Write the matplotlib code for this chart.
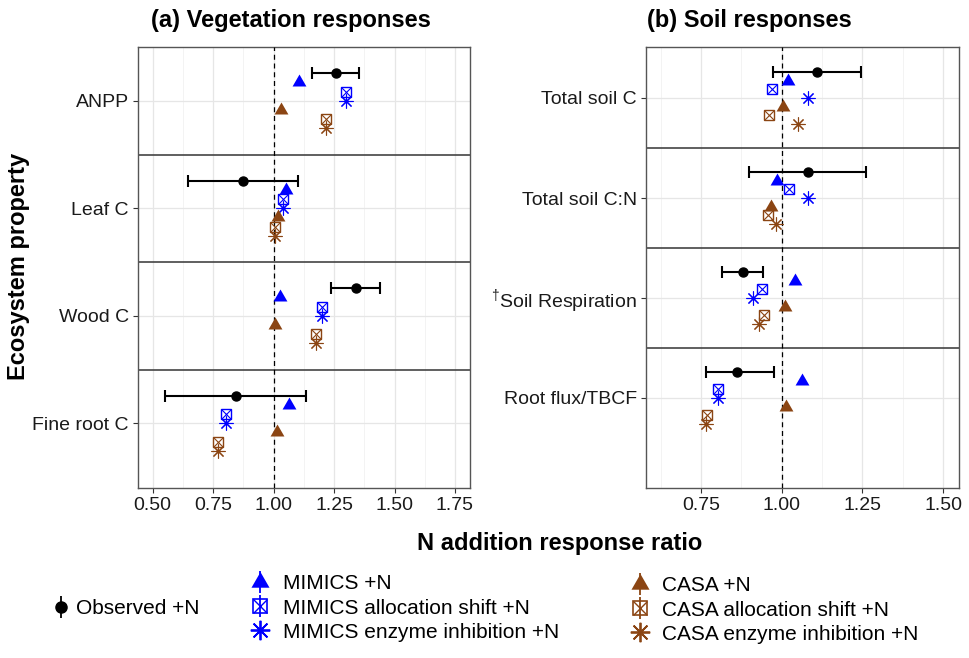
import numpy as np
import matplotlib
matplotlib.use('Agg')
import matplotlib.pyplot as plt
from matplotlib.lines import Line2D
from matplotlib.legend_handler import HandlerTuple
from matplotlib.ticker import MultipleLocator

plt.rcParams['font.family'] = ['Liberation Sans', 'DejaVu Sans']
plt.rcParams['mathtext.fontset'] = 'custom'
plt.rcParams['mathtext.rm'] = 'Liberation Sans'

# ---- data ----
veg_props = ['ANPP', 'Leaf C', 'Wood C', 'Fine root C']
veg_obs = [1.257, 0.873, 1.341, 0.843]
veg_obs_lo = [1.160, 0.645, 1.239, 0.551]
veg_obs_hi = [1.352, 1.100, 1.442, 1.133]
veg_mimics = [1.104, 1.053, 1.025, 1.066]
veg_mimics_alloc = [1.298, 1.039, 1.199, 0.805]
veg_mimics_enz = [1.300, 1.040, 1.199, 0.805]
veg_casa = [1.032, 1.018, 1.005, 1.015]
veg_casa_alloc = [1.218, 1.005, 1.177, 0.769]
veg_casa_enz = [1.218, 1.005, 1.177, 0.769]

soil_props = ['Total soil C', 'Total soil C:N', r'$^{\dagger}$Soil Respiration', 'Root flux/TBCF']
soil_obs = [1.109, 1.080, 0.880, 0.862]
soil_obs_lo = [0.972, 0.899, 0.814, 0.767]
soil_obs_hi = [1.245, 1.260, 0.943, 0.975]
soil_mimics = [1.020, 0.986, 1.040, 1.062]
soil_mimics_alloc = [0.969, 1.023, 0.940, 0.802]
soil_mimics_enz = [1.082, 1.082, 0.910, 0.804]
soil_casa = [1.003, 0.968, 1.009, 1.014]
soil_casa_alloc = [0.962, 0.958, 0.944, 0.769]
soil_casa_enz = [1.052, 0.981, 0.929, 0.767]

BLUE = '#0000FF'
BROWN = '#8B4513'
TRI = [(0, 0.577), (-0.5, -0.289), (0.5, -0.289)]  # equilateral triangle
AST = (8, 2, 0)


def draw_model(ax, x, y, color, kind):
    if kind == 'tri':
        ax.plot(x, y, ls='', marker=TRI, ms=11.5, color=color, mew=0, zorder=4)
    elif kind == 'box':
        ax.plot(x, y, ls='', marker='s', ms=6.8, mfc='none', mec=color, mew=1.0, zorder=4)
        ax.plot(x, y, ls='', marker='x', ms=6.8, color=color, mew=0.8, zorder=4)
    else:
        ax.plot(x, y, ls='', marker=AST, ms=10, color=color, mew=0.8, zorder=4)


def draw_panel(ax, props, obs, lo, hi, models, xlim, ylim, major):
    n = len(props)
    y = n - np.arange(n)
    step = 0.6 / 7
    obs = np.array(obs)
    err = [obs - np.array(lo), np.array(hi) - obs]
    ax.errorbar(obs, y + 3 * step, xerr=err, fmt='o', color='black', ms=6.5,
                elinewidth=1.5, capsize=4.3, capthick=1.5, zorder=5)
    for i, (vals, color, kind) in enumerate(models, start=1):
        draw_model(ax, vals, y + (3 - i) * step, color, kind)

    ax.axvline(1.0, color='black', ls=(0, (4, 3)), lw=0.9, zorder=3)
    for b in np.arange(1.5, n, 1.0):
        ax.axhline(b, color='#444444', lw=1.2, zorder=2)

    ax.set_xlim(*xlim)
    ax.set_ylim(*ylim)
    ax.xaxis.set_major_locator(MultipleLocator(major))
    ax.xaxis.set_minor_locator(MultipleLocator(major / 2))
    ax.xaxis.set_major_formatter(matplotlib.ticker.FormatStrFormatter('%.2f'))
    ax.set_yticks(y)
    ax.set_yticklabels(props)
    ax.grid(which='major', color='#E6E6E6', lw=0.9, zorder=0)
    ax.grid(which='minor', axis='x', color='#F1F1F1', lw=0.6, zorder=0)
    ax.set_axisbelow(True)
    ax.tick_params(which='major', length=3.5, width=0.8, color='#333333',
                   labelsize=14, labelcolor='#1a1a1a', pad=3)
    ax.tick_params(which='minor', length=0)
    for s in ax.spines.values():
        s.set_color('#555555')
        s.set_linewidth(1.0)


fig = plt.figure(figsize=(9.70, 6.58), dpi=100)
ax1 = fig.add_axes([138 / 970, 1 - 488 / 658, 332 / 970, 441 / 658])
ax2 = fig.add_axes([646 / 970, 1 - 488 / 658, 313 / 970, 441 / 658])

veg_models = [(veg_mimics, BLUE, 'tri'), (veg_mimics_alloc, BLUE, 'box'),
              (veg_mimics_enz, BLUE, 'ast'), (veg_casa, BROWN, 'tri'),
              (veg_casa_alloc, BROWN, 'box'), (veg_casa_enz, BROWN, 'ast')]
soil_models = [(soil_mimics, BLUE, 'tri'), (soil_mimics_alloc, BLUE, 'box'),
               (soil_mimics_enz, BLUE, 'ast'), (soil_casa, BROWN, 'tri'),
               (soil_casa_alloc, BROWN, 'box'), (soil_casa_enz, BROWN, 'ast')]

draw_panel(ax1, veg_props, veg_obs, veg_obs_lo, veg_obs_hi, veg_models,
           (0.44, 1.812), (0.398, 4.5), 0.25)
draw_panel(ax2, soil_props, soil_obs, soil_obs_lo, soil_obs_hi, soil_models,
           (0.58, 1.549), (0.10, 4.51), 0.25)

fig.text(291 / 970, 1 - 27 / 658, '(a) Vegetation responses', ha='center', va='baseline',
         fontsize=17, fontweight='bold')
fig.text(749 / 970, 1 - 27 / 658, '(b) Soil responses', ha='center', va='baseline',
         fontsize=17, fontweight='bold')
fig.text(19 / 970, 1 - 266 / 658, 'Ecosystem property', rotation=90, ha='center', va='center',
         fontsize=17, fontweight='bold')
fig.text(560 / 970, 1 - 550 / 658, 'N addition response ratio', ha='center', va='baseline',
         fontsize=17, fontweight='bold')


# ---- legends ----
def key(color, kind):
    stem = Line2D([], [], ls='', marker='|', ms=16, mew=1.3, color=color)
    if kind == 'obs':
        return (stem, Line2D([], [], ls='', marker='o', ms=8, color=color))
    if kind == 'tri':
        return (stem, Line2D([], [], ls='', marker=TRI, ms=15, color=color, mew=0))
    if kind == 'box':
        return (stem,
                Line2D([], [], ls='', marker='s', ms=10, mfc='none', mec=color, mew=1.2),
                Line2D([], [], ls='', marker='x', ms=10, color=color, mew=1.0))
    return (Line2D([], [], ls='', marker=AST, ms=14, color=color, mew=1.3),)


leg_kw = dict(frameon=False, fontsize=15, handlelength=1.0, borderpad=0, borderaxespad=0,
              labelspacing=0.25, handler_map={tuple: HandlerTuple(ndivide=1)})

fig.legend([key('black', 'obs')], ['Observed +N'], loc='center left',
           bbox_to_anchor=(51 / 970, 1 - 609 / 658), handletextpad=0.22, **leg_kw)
fig.legend([key(BLUE, 'tri'), key(BLUE, 'box'), key(BLUE, 'ast')],
           ['MIMICS +N', 'MIMICS allocation shift +N', 'MIMICS enzyme inhibition +N'],
           loc='center left', bbox_to_anchor=(249.6 / 970, 1 - 608 / 658),
           handletextpad=0.6, **leg_kw)
fig.legend([key(BROWN, 'tri'), key(BROWN, 'box'), key(BROWN, 'ast')],
           ['CASA +N', 'CASA allocation shift +N', 'CASA enzyme inhibition +N'],
           loc='center left', bbox_to_anchor=(629.6 / 970, 1 - 610 / 658),
           handletextpad=0.56, **leg_kw)

fig.savefig('out.png', dpi=100)
